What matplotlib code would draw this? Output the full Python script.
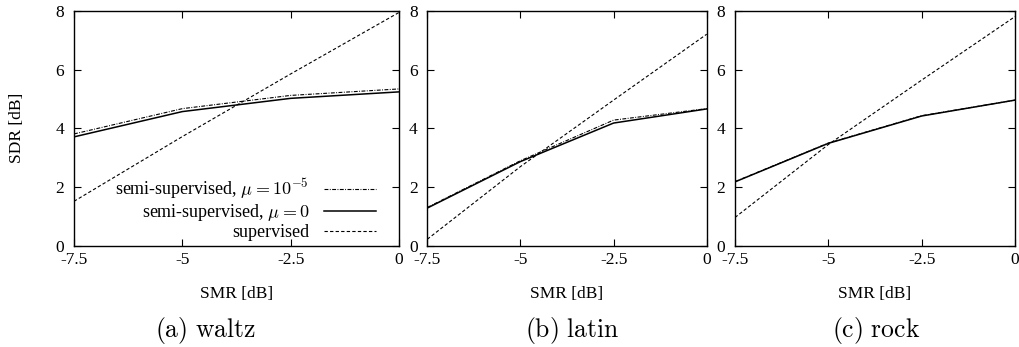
import matplotlib
matplotlib.use("Agg")
import matplotlib.pyplot as plt

plt.rcParams['font.family'] = ['Liberation Serif', 'DejaVu Serif']
plt.rcParams['mathtext.fontset'] = 'cm'
plt.rcParams['axes.unicode_minus'] = False
FS = 12.5

smr = [-7.5, -5, -2.5, 0]
x_ticklabels = ["-7.5", "-5", "-2.5", "0"]
y_ticks = [0, 2, 4, 6, 8]

captions = ["(a) waltz", "(b) latin", "(c) rock"]

semi_mu5 = {
    "waltz": [3.81, 4.67, 5.12, 5.34],
    "latin": [1.31, 2.90, 4.28, 4.67],
    "rock": [2.19, 3.50, 4.43, 4.96],
}
semi_mu0 = {
    "waltz": [3.71, 4.57, 5.02, 5.24],
    "latin": [1.29, 2.87, 4.18, 4.66],
    "rock": [2.18, 3.49, 4.42, 4.96],
}
supervised = {
    "waltz": [1.52, 3.72, 5.85, 7.94],
    "latin": [0.23, 2.70, 4.96, 7.20],
    "rock": [0.97, 3.45, 5.64, 7.80],
}
genres = ["waltz", "latin", "rock"]

W, H = 1020, 347
fig = plt.figure(figsize=(W / 100, H / 100), dpi=100)

boxes = [(74, 399), (427.3, 706.7), (735, 1015)]
top_px, bot_px = 10.7, 246
label_cx = [237, 567, 875]
cap_cx = [206, 572, 876]

for i, g in enumerate(genres):
    l, r = boxes[i]
    ax = fig.add_axes([l / W, 1 - bot_px / H, (r - l) / W, (bot_px - top_px) / H])
    ax.plot(smr, semi_mu5[g], color='black', lw=0.8,
            ls=(0, (3.5, 1.3, 0.8, 1.3)), label=r'semi-supervised, $\mu = 10^{-5}$')
    ax.plot(smr, semi_mu0[g], color='black', lw=1.1, ls='-',
            label=r'semi-supervised, $\mu = 0$')
    ax.plot(smr, supervised[g], color='black', lw=0.8, ls=(0, (3, 2)),
            label='supervised')
    ax.set_xlim(-7.5, 0)
    ax.set_ylim(0, 8)
    ax.set_xticks(smr)
    ax.set_xticklabels(x_ticklabels)
    ax.set_yticks(y_ticks)
    ax.tick_params(direction='in', top=True, right=True, length=5, width=0.8,
                   labelsize=FS, colors='black')
    ax.tick_params(axis='y', pad=7)
    ax.tick_params(axis='x', pad=4)
    for s in ax.spines.values():
        s.set_linewidth(1.0)
    fig.text(label_cx[i] / W, 1 - 294 / H, "SMR [dB]", ha='center', va='center',
             fontsize=FS)
    fig.text(cap_cx[i] / W, 1 - 330 / H, r'$\mathrm{' + captions[i].replace(' ', r'\ ') + '}$',
             ha='center', va='center', fontsize=18.5)
    if i == 0:
        fig.text(17 / W, 1 - 128 / H, "SDR [dB]", rotation=90, ha='center',
                 va='center', fontsize=FS)
        ax.legend(loc='lower right', bbox_to_anchor=(0.929, 0.02), frameon=False,
                  markerfirst=False, fontsize=13, handlelength=2.9,
                  handletextpad=0.8, labelspacing=0.05, borderpad=0,
                  borderaxespad=0)

fig.savefig("out.png", dpi=100)
